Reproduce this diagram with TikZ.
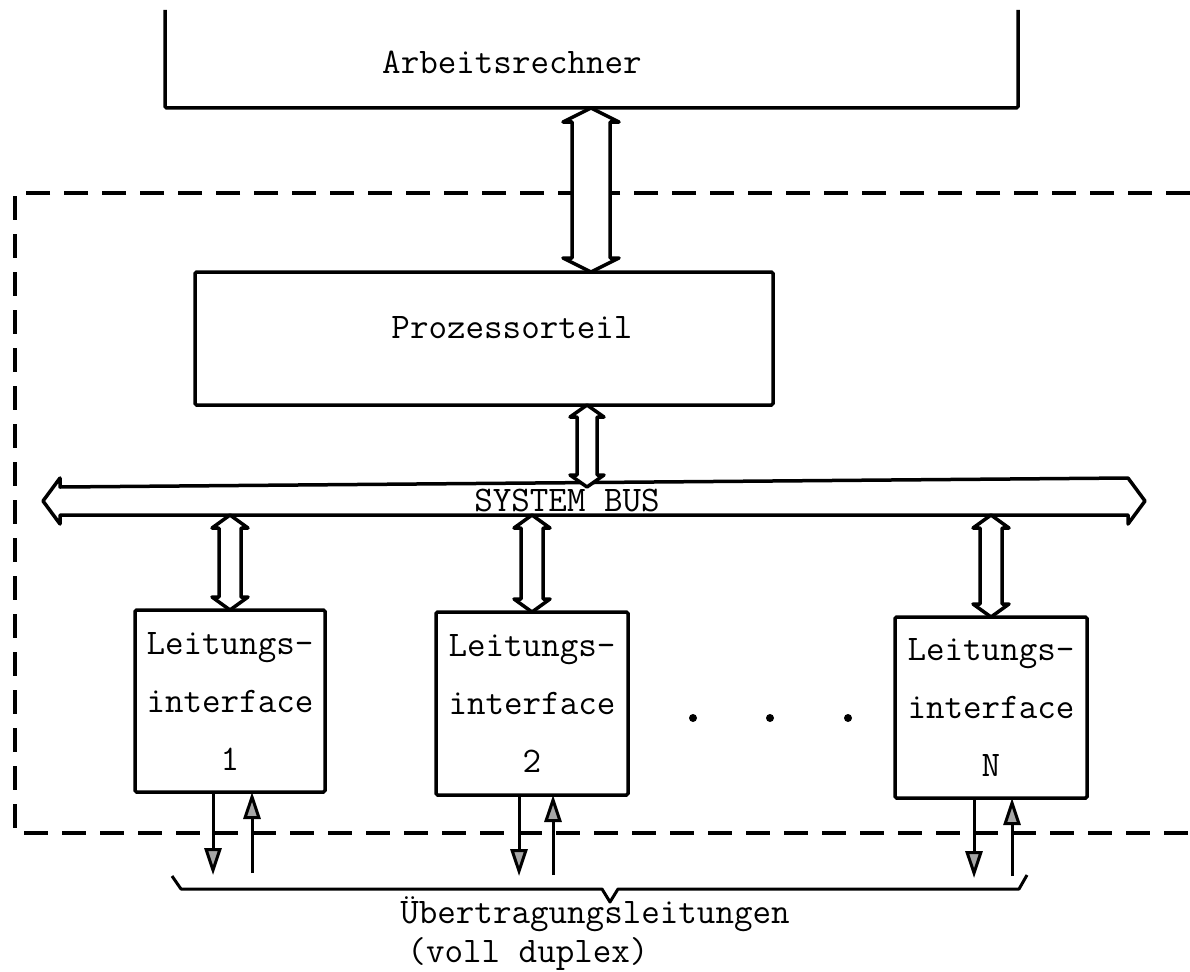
\documentclass[tikz,border=0pt]{standalone}
\usetikzlibrary{calc,arrows.meta}
\newcommand{\vdoublearrow}[5]{\draw[dbl] ($(#1)+(-#3,#5)$) -- ($(#1)+(-#4,#5)$) -- (#1) -- ($(#1)+(#4,#5)$) -- ($(#1)+(#3,#5)$) -- ($(#2)+(#3,-#5)$) -- ($(#2)+(#4,-#5)$) -- (#2) -- ($(#2)+(-#4,-#5)$) -- ($(#2)+(-#3,-#5)$) -- cycle;}
\begin{document}
\begin{tikzpicture}[x=1pt,y=-1pt,
  every node/.style={inner sep=0pt, outer sep=0pt},
  tt/.style={font=\fontsize{36}{58}\selectfont\ttfamily},
  blk/.style={draw, line width=3.5pt, rounded corners=1.5pt},
  dbl/.style={draw, line width=3.5pt, line join=round, fill=white},
  dashbox/.style={line width=3.5pt, dash pattern=on 24pt off 14pt},
  sig/.style={line width=3pt, -{Triangle[length=27pt,width=17pt,fill=gray!70]}},
  dot/.style={circle, fill=black, minimum size=8pt},
]
\useasboundingbox (0,0) rectangle (1190,971);
% top computer
\node[minimum width=853pt, minimum height=98pt] (arb) at (591.5,59) {};
\draw[blk] (arb.north west) -- (arb.south west) -- (arb.south east) -- (arb.north east);
\node[tt] (arbt) at (512,62) {Arbeitsrechner};
% dashed frame
\draw[dashbox] (1190,193) -- (15,193) -- (15,833) -- (1190,833);
% processor
\node[blk, minimum width=578pt, minimum height=133pt] (proz) at (484,338.5) {};
\node[tt] (prozt) at (512,328) {Prozessorteil};
% bus
\node[minimum width=1068pt, minimum height=28pt] (bus) at (594,501) {};
\draw[dbl] (bus.north west) -- ($(bus.north west)+(0,-9)$) -- ($(bus.west)+(-17,0)$) -- ($(bus.south west)+(0,9)$) -- (bus.south west) -- (bus.south east) -- ($(bus.south east)+(0,9)$) -- ($(bus.east)+(17,0)$) -- ($(bus.north east)+(0,-9)$) -- cycle;
\node[tt] (bust) at (567,500) {SYSTEM BUS};
% line interfaces
\node[blk, tt, align=center, minimum width=190pt, minimum height=182pt] (l1) at (230,701) {Leitungs-\\interface\\1};
\node[blk, tt, align=center, minimum width=192pt, minimum height=183pt] (l2) at (532,703.5) {Leitungs-\\interface\\2};
\node[blk, tt, align=center, minimum width=192pt, minimum height=181pt] (ln) at (991,707.5) {Leitungs-\\interface\\N};
\node[dot] (d1) at (693,718) {};
\node[dot] (d2) at (770,718) {};
\node[dot] (d3) at (848,718) {};
% double arrows
\path (591,0) coordinate (c0) (587,0) coordinate (c1);
\coordinate (a0t) at (c0 |- arb.south);
\coordinate (a0b) at (c0 |- proz.north);
\vdoublearrow{a0t}{a0b}{19}{28}{14}
\coordinate (a1t) at (c1 |- proz.south);
\coordinate (a1b) at (c1 |- bus.north);
\vdoublearrow{a1t}{a1b}{10}{17}{12}
\coordinate (b1t) at (l1.north |- bus.south);
\vdoublearrow{b1t}{l1.north}{11}{18}{13}
\coordinate (b2t) at (l2.north |- bus.south);
\vdoublearrow{b2t}{l2.north}{11}{18}{13}
\coordinate (bnt) at (ln.north |- bus.south);
\vdoublearrow{bnt}{ln.north}{11}{18}{13}
% transmission lines
\path (213,0) coordinate (x1d) (252,0) coordinate (x1u)
      (519,0) coordinate (x2d) (553,0) coordinate (x2u)
      (974,0) coordinate (xnd) (1012,0) coordinate (xnu);
\coordinate (e1d) at (213,875); \coordinate (e1u) at (252,873);
\coordinate (e2d) at (519,876); \coordinate (e2u) at (553,875);
\coordinate (end) at (974,878); \coordinate (enu) at (1012,876);
\draw[sig] (x1d |- l1.south) -- (e1d);
\draw[sig] (e1u) -- (x1u |- l1.south);
\draw[sig] (x2d |- l2.south) -- (e2d);
\draw[sig] (e2u) -- (x2u |- l2.south);
\draw[sig] (xnd |- ln.south) -- (end);
\draw[sig] (enu) -- (xnu |- ln.south);
% brace
\draw[line width=3pt, line join=round] (172,876) -- (181,889) -- (602,889) -- (610,902) -- (618,889) -- (1019,889) -- (1027,875);
\node[tt] (ut) at (595,914) {Übertragungsleitungen};
\node[tt] (vd) at (528,954) {(voll duplex)};
\end{tikzpicture}
\end{document}
